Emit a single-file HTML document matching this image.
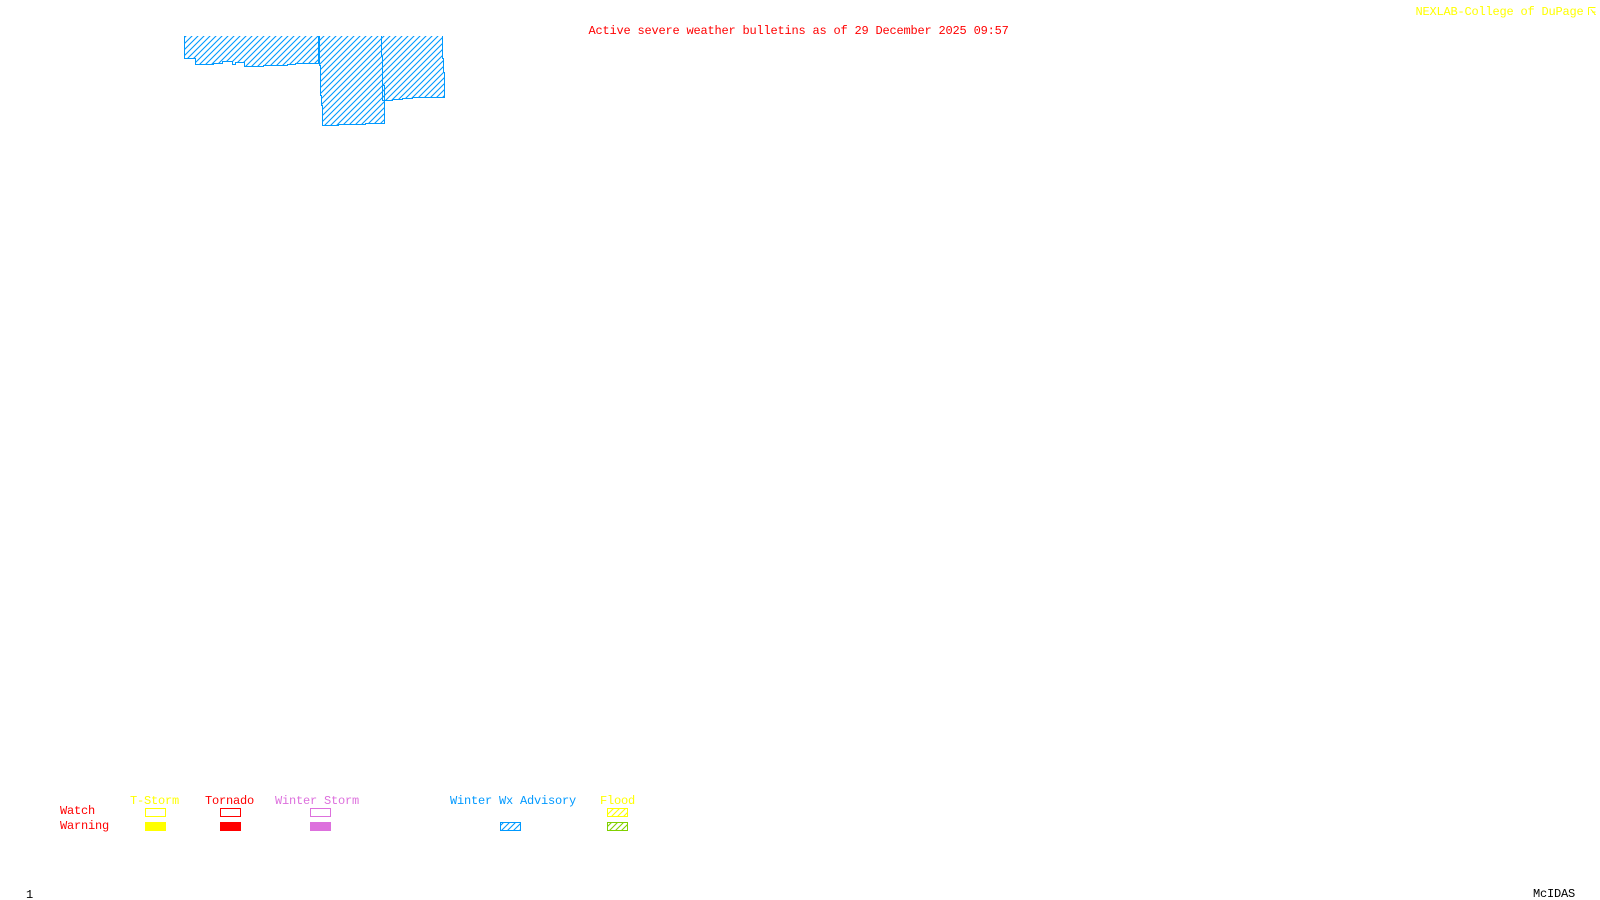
<!DOCTYPE html>
<html>
<head>
<meta charset="utf-8">
<title>Active severe weather bulletins</title>
<style>
html,body{margin:0;padding:0;background:#fff;width:1600px;height:900px;overflow:hidden}
svg{display:block}
text{font-family:"Liberation Mono",monospace;font-size:12px;letter-spacing:-.2px;white-space:pre}
.c{shape-rendering:crispEdges}
</style>
</head>
<body>
<svg width="1600" height="900" viewBox="0 0 1600 900" xmlns="http://www.w3.org/2000/svg">
<defs>
<pattern id="hb" width="6" height="6" patternUnits="userSpaceOnUse">
<path d="M-1 7L7 -1M-1 1L1 -1M5 7L7 5" stroke="#0099ff" stroke-width="1.100" fill="none"/>
</pattern>
<pattern id="hy" width="6" height="6" patternUnits="userSpaceOnUse">
<path d="M-1 7L7 -1M-1 1L1 -1M5 7L7 5" stroke="#ffff00" stroke-width="1.100" fill="none"/>
</pattern>
<pattern id="hg" width="6" height="6" patternUnits="userSpaceOnUse">
<path d="M-1 7L7 -1M-1 1L1 -1M5 7L7 5" stroke="#80d000" stroke-width="1.100" fill="none"/>
</pattern>
</defs>

<g class="c" fill="url(#hb)" stroke="#0099ff" stroke-width="1">
<path d="M184.500 36V58.500H195.500V64.500H213.500V63.500H222.500V61.500H232.500V64.500H235.500V62.500H244.500V66.500H263.500V65.500H287.500V64.500H295.500V63.500H318.500V36"/>
<path d="M319.500 36V65.500H320.500V95.500H321.500V105.500H322.500V125.500H338.500V124.500H365.500V123.500H384.500V85.500H382.500V56.500H381.500V36"/>
<path d="M381.500 36V56.500H382.500V100.500H392.500V99.500H402.500V98.500H412.500V97.500H444.500V72.500H443.500V58.500H442.500V36"/>
</g>

<text x="588.500" y="34" fill="#ff0000">Active severe weather bulletins as of 29 December 2025 09:57</text>
<text x="1415.500" y="15" fill="#ffff00">NEXLAB-College of DuPage</text>
<g class="c" fill="none" stroke="#ffff00" stroke-width="1">
<path d="M1588.500 7.500H1595.500M1588.500 7.500V15M1591 9.500L1595.500 15M1592 12H1595.500"/>
</g>

<text x="130" y="804" fill="#ffff00">T-Storm</text>
<text x="205" y="804" fill="#ff0000">Tornado</text>
<text x="275" y="804" fill="#dd70dd">Winter Storm</text>
<text x="450" y="804" fill="#0099ff">Winter Wx Advisory</text>
<text x="600" y="804" fill="#ffff00">Flood</text>
<text x="60" y="814" fill="#ff0000">Watch</text>
<text x="60" y="829" fill="#ff0000">Warning</text>

<g class="c" stroke-width="1">
<rect x="145.500" y="808.500" width="20" height="8" fill="none" stroke="#ffff00"/>
<rect x="220.500" y="808.500" width="20" height="8" fill="none" stroke="#ff0000"/>
<rect x="310.500" y="808.500" width="20" height="8" fill="none" stroke="#dd70dd"/>
<rect x="145" y="822" width="21" height="9" fill="#ffff00"/>
<rect x="220" y="822" width="21" height="9" fill="#ff0000"/>
<rect x="310" y="822" width="21" height="9" fill="#dd70dd"/>
<rect x="500.500" y="822.500" width="20" height="8" fill="url(#hb)" stroke="#0099ff"/>
<rect x="607.500" y="808.500" width="20" height="8" fill="url(#hy)" stroke="#ffff00"/>
<rect x="607.500" y="822.500" width="20" height="8" fill="url(#hg)" stroke="#80d000"/>
</g>

<text x="1533" y="897" fill="#000">McIDAS</text>
<text x="26" y="898" fill="#000">1</text>
</svg>
</body>
</html>
